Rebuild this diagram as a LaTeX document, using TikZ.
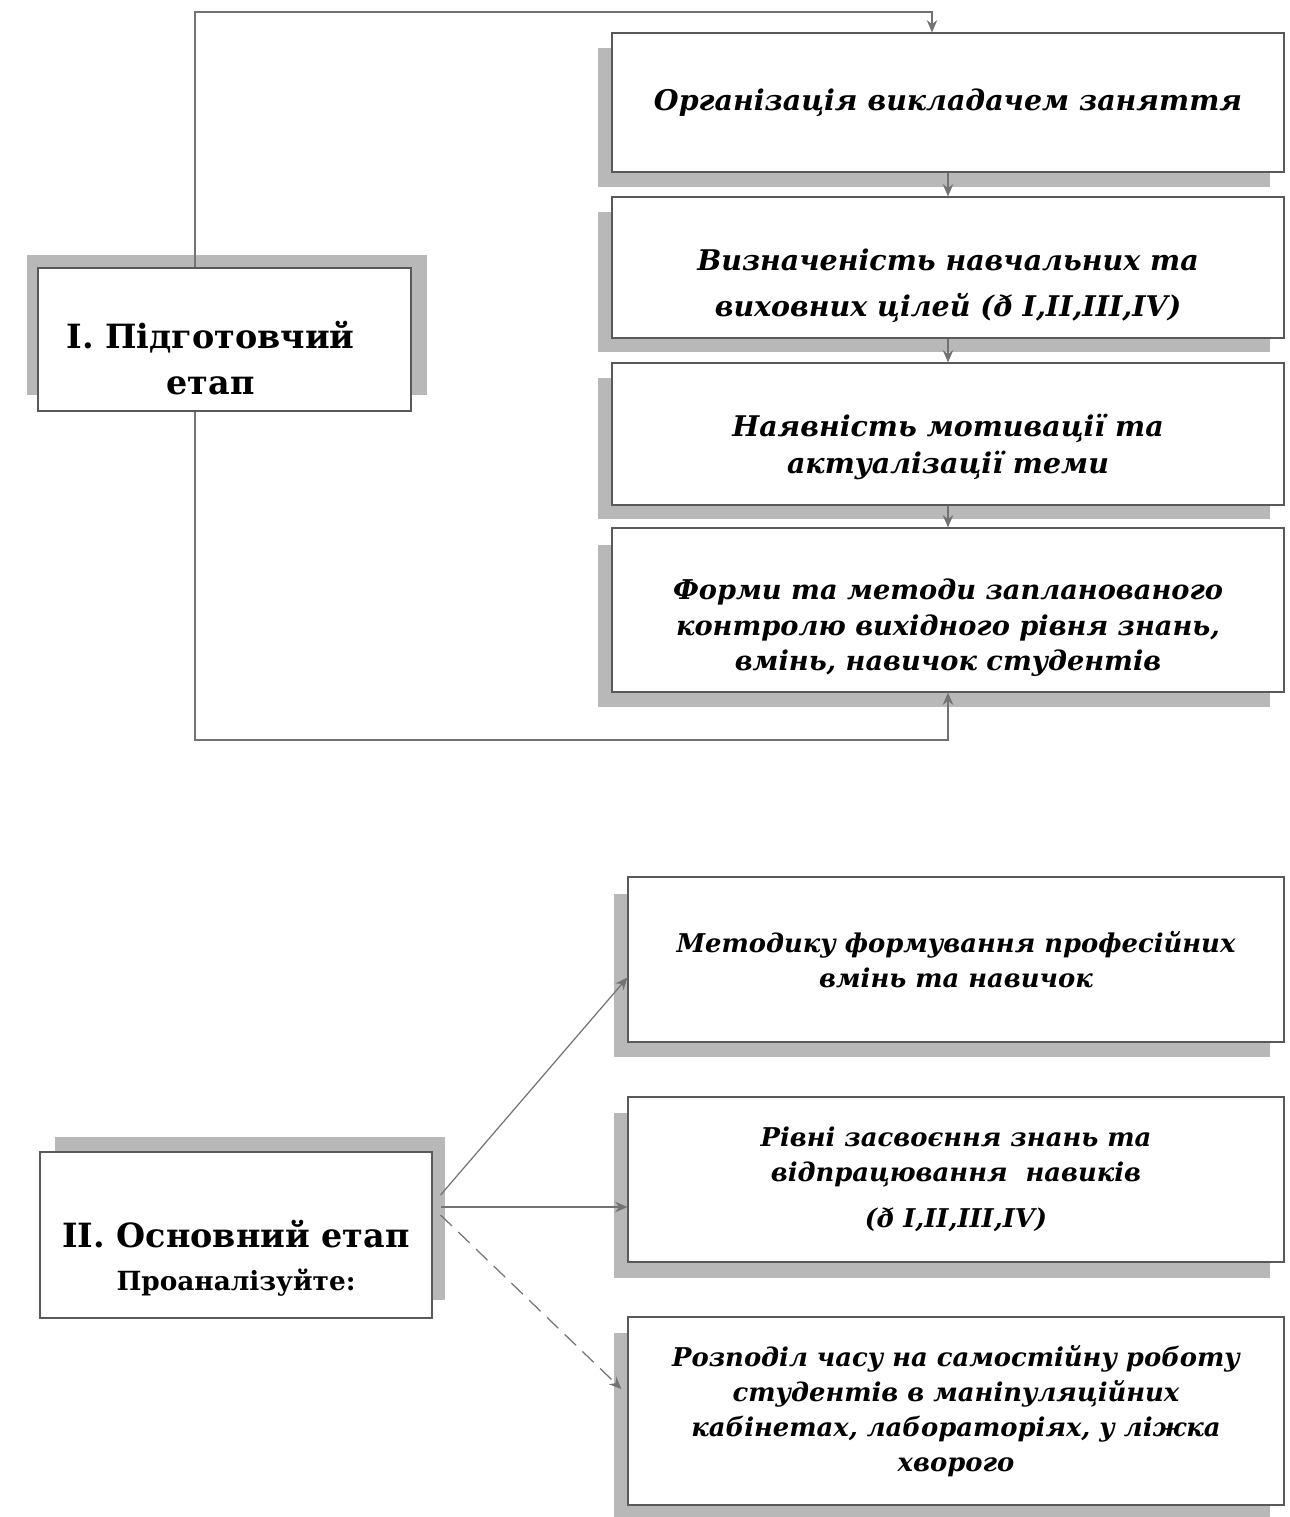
\documentclass[tikz,border=0pt]{standalone}
\usepackage{fontspec}
\setmainfont{DejaVu Serif}
\usetikzlibrary{arrows.meta}
\newcommand{\pushdown}[1]{\rule{0pt}{#1}}
\tikzset{
  box/.style={draw=black!65, line width=0.7pt, fill=white, align=center, inner sep=0pt},
  rbox/.style={box, minimum width=13.44cm, font=\fontsize{16.2}{21}\selectfont\bfseries\itshape},
  lrbox/.style={box, minimum width=13.12cm, font=\fontsize{14.7}{20}\selectfont\bfseries\itshape},
  lbox/.style={box, font=\fontsize{19}{26}\selectfont\bfseries},
  shade/.style={fill=black!28},
  conn/.style={draw=black!55, line width=0.7pt},
  tip/.style={-{Stealth[length=7pt,width=6pt]}}
}
\begin{document}
\begin{tikzpicture}[x=0.02cm,y=-0.02cm]
\useasboundingbox (0,0) rectangle (1289,1517);
% shadows
\fill[shade] (27,255) rectangle (427,395);
\fill[shade] (598,48) rectangle (1270,187);
\fill[shade] (598,212) rectangle (1270,352);
\fill[shade] (598,378) rectangle (1270,519);
\fill[shade] (598,545) rectangle (1270,707);
\fill[shade] (55,1137) rectangle (445,1300);
\fill[shade] (614,894) rectangle (1270,1057);
\fill[shade] (614,1113) rectangle (1270,1278);
\fill[shade] (614,1333) rectangle (1270,1517);
% boxes
\node[lbox, minimum width=7.46cm, minimum height=2.86cm] (I) at (224.5,339.5) {\pushdown{37pt}I. Підготовчий\hspace*{0.56cm}\\етап\hspace*{0.56cm}};
\node[rbox, minimum height=2.78cm] (A) at (948,102.5) {Організація викладачем заняття};
\node[rbox, minimum height=2.82cm, font=\fontsize{16.2}{26}\selectfont\bfseries\itshape] (B) at (948,267.5) {\pushdown{33pt}Визначеність навчальних та\\виховних цілей (ð I,II,III,IV)};
\node[rbox, minimum height=2.84cm] (C) at (948,434) {\pushdown{28pt}Наявність мотивації та\\актуалізації теми};
\node[rbox, minimum height=3.28cm, font=\fontsize{15.5}{20}\selectfont\bfseries\itshape] (D) at (948,610) {\pushdown{32pt}Форми та методи запланованого\\контролю вихідного рівня знань,\\вмінь, навичок студентів};
\node[lbox, minimum width=7.84cm, minimum height=3.32cm] (II) at (236,1235) {\pushdown{42pt}II. Основний етап\\[-2pt]{\fontsize{15}{20}\selectfont Проаналізуйте:}};
\node[lrbox, minimum height=3.3cm] (E) at (956,959.5) {Методику формування професійних\\вмінь та навичок};
\node[lrbox, minimum height=3.3cm] (F) at (956,1179.5) {Рівні засвоєння знань та\\відпрацювання\ \ навиків\\[6pt](ð I,II,III,IV)};
\node[lrbox, minimum height=3.76cm] (G) at (956,1411) {Розподіл часу на самостійну роботу\\студентів в маніпуляційних\\кабінетах, лабораторіях, у ліжка\\хворого};
% connectors
\coordinate (t1) at (195,12);
\coordinate (t2) at (932,12);
\coordinate (b1) at (195,740);
\draw[conn, tip] (I.north -| t1) |- (t2) -- (A.north -| t2);
\draw[conn, tip] (A.south) -- (B.north);
\draw[conn, tip] (B.south) -- (C.north);
\draw[conn, tip] (C.south) -- (D.north);
\draw[conn, tip] (I.south -| b1) |- (b1 -| D.south) -- (D.south);
\draw[conn, tip] ([shift={(8,-40)}]II.east) -- ([shift={(0,18)}]E.west);
\draw[conn, tip] ([shift={(8,-28)}]II.east) -- ([shift={(0,-28)}]II.east -| F.west);
\draw[conn, tip, dashed, dash pattern=on 9pt off 5pt] ([shift={(8,-20)}]II.east) -- ([shift={(-6,-22)}]G.west);
\end{tikzpicture}
\end{document}
